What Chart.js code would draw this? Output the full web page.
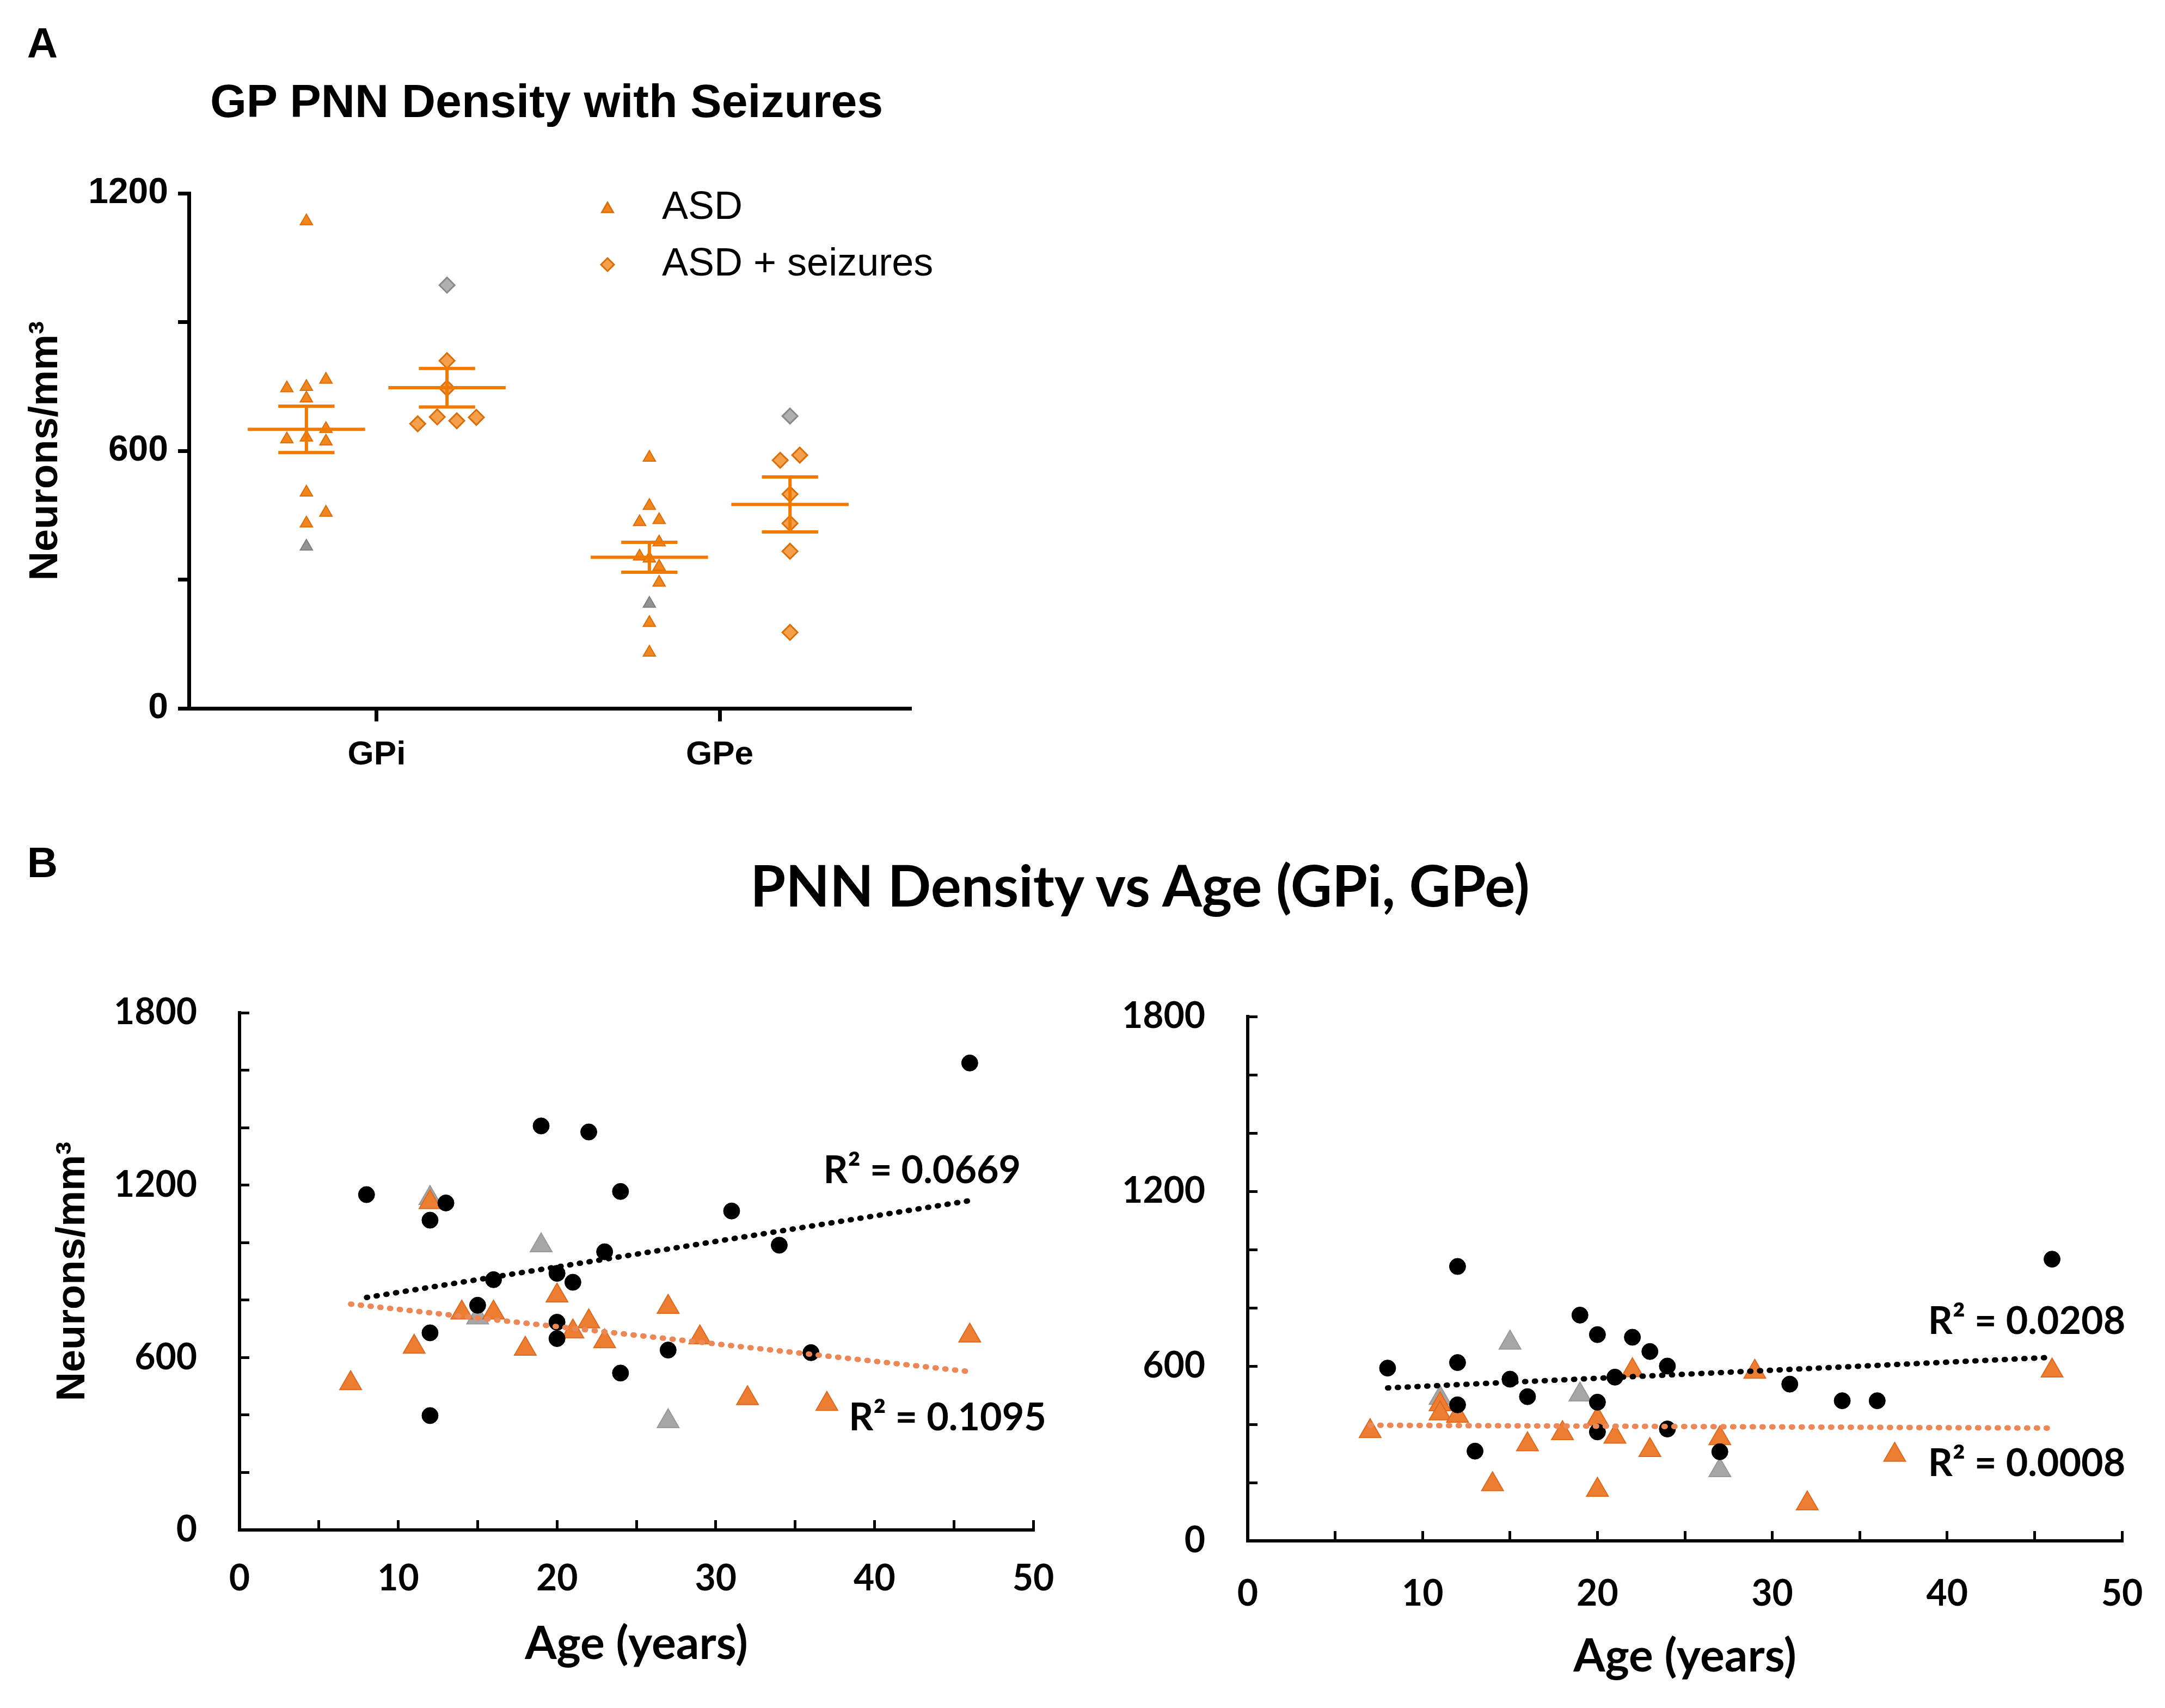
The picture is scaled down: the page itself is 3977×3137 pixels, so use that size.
<!DOCTYPE html>
<html>
<head>
<meta charset="utf-8">
<title>GP PNN density</title>
<script src="https://cdn.jsdelivr.net/npm/chart.js@4.4.1/dist/chart.umd.min.js"></script>
<style>
  html, body { margin: 0; padding: 0; background: #fff; }
  body { width: 3977px; height: 3137px; position: relative; overflow: hidden; }
  canvas { position: absolute; }
  .txt { position: absolute; transform: translate(-50%, -50%); line-height: 1; white-space: nowrap; color: #000; }
</style>
</head>
<body>
<div class="txt" style="left:78px;top:79px;font:bold 78px 'Liberation Sans'">A</div>
<div class="txt" style="left:1004px;top:185px;font:bold 86px 'Liberation Sans'">GP PNN Density with Seizures</div>
<div class="txt" style="left:78px;top:1584px;font:bold 78px 'Liberation Sans'">B</div>
<div class="txt" style="left:2094px;top:1624px;font:bold 105px Lato">PNN Density vs Age (GPi, GPe)</div>

<canvas id="chartA" width="1760" height="1500" style="left:0;top:0"></canvas>
<canvas id="chartGPi" width="2000" height="1337" style="left:0;top:1800px"></canvas>
<canvas id="chartGPe" width="1977" height="1337" style="left:2000px;top:1800px"></canvas>

<script>
// ---- panel A data ----
const groups = ['GPi', 'GPe'];
const legendLabels = ['ASD', 'ASD + seizures'];

const asdGPi = [1135, 766, 749, 746, 722, 651, 631, 627, 622, 503, 456, 431];
const asdGPiSlots = [0, 1, 0, -1, 0, 1, 0, -1, 1, 0, 1, 0];
const asdGPiGrey = [377];
const asdGPe = [584, 472, 439, 434, 387, 354, 349, 330, 293, 199, 130];
const asdGPeSlots = [0, 0, 0.5, -0.5, 0.5, -0.5, 0, 0.5, 0.5, 0, 0];
const asdGPeGrey = [244];

const seizGPi = [810, 746, 679, 678, 670, 663];
const seizGPiSlots = [0, 0, -0.5, 1.5, 0.5, -1.5];
const seizGPiGrey = [986];
const seizGPe = [590, 578, 499, 431, 366, 177];
const seizGPeSlots = [0.5, -0.5, 0, 0, 0, 0];
const seizGPeGrey = [681];

const asdMean = [650, 352];
const asdSem = [54, 35];
const seizMean = [747, 475];
const seizSem = [45, 64];

// ---- panel B data ----
const ctrlAge = [8, 12, 12, 12, 13, 15, 16, 19, 20, 20, 20, 21, 22, 23, 24, 24, 27, 31, 34, 36, 46];
const ctrlGPi = [1167, 1078, 686, 398, 1138, 782, 871, 1406, 893, 723, 666, 862, 1385, 968, 1178, 546, 626, 1110, 991, 617, 1625];
const ctrlGPe = [593, 942, 612, 467, 308, 555, 495, 775, 708, 476, 374, 562, 699, 650, 600, 384, 306, 538, 481, 481, 967];

const asdAgeGPi = [7, 11, 12, 14, 16, 18, 20, 21, 22, 23, 27, 29, 32, 37, 46];
const asdValGPi = [510, 637, 1140, 756, 756, 630, 815, 690, 725, 656, 776, 670, 458, 438, 676];
const asdAgeGPe = [7, 11, 11, 12, 14, 16, 18, 20, 20, 21, 22, 23, 27, 29, 32, 37, 46];
const asdValGPe = [376, 468, 437, 429, 194, 331, 369, 418, 175, 357, 585, 311, 352, 580, 128, 295, 584];

const greyAgeGPi = [12, 15, 19, 27];
const greyValGPi = [1155, 739, 990, 378];
const greyAgeGPe = [11, 15, 19, 27];
const greyValGPe = [490, 680, 502, 242];

const ctrlTrendAge = [8, 46];
const asdTrendAge = [7, 46];
const ctrlTrendGPi = [809, 1146];
const asdTrendGPi = [786, 551];
const ctrlTrendGPe = [525, 630];
const asdTrendGPe = [397, 387];

const r2GPi = ['R\u00B2 = 0.0669', 'R\u00B2 = 0.1095'];
const r2GPe = ['R\u00B2 = 0.0208', 'R\u00B2 = 0.0008'];

// ---- styling ----
const ORANGE_A = '#F0861C';
const ORANGE_A_EDGE = '#DC6E0A';
const ORANGE_LINE = '#F07A00';
const GREY_A = '#929292';
const ORANGE_B = '#ED7D31';
const GREY_B = '#A6A6A6';

const slotWidth = 0.057, groupShift = 0.205, meanHalf = 0.171, capHalf = 0.082;

function zip(xs, ys) { return xs.map((x, i) => ({ x: x, y: ys[i] })); }

function groupPts(values, slots, gi, side) {
  return values.map((v, i) => ({ x: gi + 1 + side * groupShift + (slots ? slots[i] : 0) * slotWidth, y: v }));
}

function errorBars() {
  const out = [];
  groups.forEach((g, i) => {
    [[asdMean, asdSem, -1], [seizMean, seizSem, 1]].forEach(([m, s, side]) => {
      const c = i + 1 + side * groupShift;
      const mean = m[i], sem = s[i];
      out.push({ x: c - meanHalf, y: mean }, { x: c + meanHalf, y: mean }, { x: c, y: null },
        { x: c - capHalf, y: mean + sem }, { x: c + capHalf, y: mean + sem }, { x: c, y: null },
        { x: c - capHalf, y: mean - sem }, { x: c + capHalf, y: mean - sem }, { x: c, y: null },
        { x: c, y: mean - sem }, { x: c, y: mean + sem }, { x: c, y: null });
    });
  });
  return out;
}

// scales report label overflow as padding; the layout here is fixed by hand
function fixBox(prop, size) {
  return s => {
    s[prop] = size;
    s.paddingTop = s.paddingBottom = s.paddingLeft = s.paddingRight = 0;
  };
}

function tri(ctx, x, y, r) {
  ctx.beginPath();
  ctx.moveTo(x, y - r);
  ctx.lineTo(x + r * 0.866, y + r * 0.5);
  ctx.lineTo(x - r * 0.866, y + r * 0.5);
  ctx.closePath();
}
function diamond(ctx, x, y, r) {
  ctx.beginPath();
  ctx.moveTo(x, y - r);
  ctx.lineTo(x + r, y);
  ctx.lineTo(x, y + r);
  ctx.lineTo(x - r, y);
  ctx.closePath();
}

const legendA = {
  id: 'legendA',
  afterDraw(chart) {
    const ctx = chart.ctx;
    ctx.save();
    ctx.font = '72px "Liberation Sans"';
    ctx.textBaseline = 'middle';
    legendLabels.forEach((label, i) => {
      const y = 382 + i * 104;
      if (i === 0) tri(ctx, 1116, y + 2, 12); else diamond(ctx, 1116, y, 12);
      ctx.fillStyle = i === 0 ? ORANGE_A : '#F6A04C';
      ctx.fill();
      ctx.lineWidth = 3;
      ctx.strokeStyle = ORANGE_A_EDGE;
      ctx.stroke();
      ctx.fillStyle = '#000';
      ctx.fillText(label, 1216, y);
    });
    ctx.restore();
  }
};

function r2Plugin(labels, anchors) {
  return {
    id: 'r2labels',
    afterDraw(chart) {
      const ctx = chart.ctx, xs = chart.scales.x, ys = chart.scales.y;
      ctx.save();
      ctx.font = 'bold 70px Lato';
      ctx.textAlign = 'center';
      ctx.textBaseline = 'middle';
      ctx.fillStyle = '#000';
      labels.forEach((t, i) => {
        ctx.fillText(t, xs.getPixelForValue(anchors[i][0]), ys.getPixelForValue(anchors[i][1]));
      });
      ctx.restore();
    }
  };
}

Chart.defaults.color = '#000';

// ---- panel A ----
new Chart(document.getElementById('chartA'), {
  type: 'scatter',
  data: {
    datasets: [
      { type: 'line', data: errorBars(), borderColor: ORANGE_LINE, borderWidth: 6, pointRadius: 0, spanGaps: false, fill: false },
      { data: groupPts(seizGPi, seizGPiSlots, 0, 1).concat(groupPts(seizGPe, seizGPeSlots, 1, 1)),
        pointStyle: 'rectRot', pointRadius: 14, backgroundColor: '#F6A04C', borderColor: ORANGE_A_EDGE, borderWidth: 3 },
      { data: groupPts(seizGPiGrey, null, 0, 1).concat(groupPts(seizGPeGrey, null, 1, 1)),
        pointStyle: 'rectRot', pointRadius: 14, backgroundColor: '#B0B0B0', borderColor: '#8A8A8A', borderWidth: 3 },
      { data: groupPts(asdGPi, asdGPiSlots, 0, -1).concat(groupPts(asdGPe, asdGPeSlots, 1, -1)),
        pointStyle: 'triangle', pointRadius: 13, backgroundColor: ORANGE_A, borderColor: ORANGE_A_EDGE, borderWidth: 2 },
      { data: groupPts(asdGPiGrey, null, 0, -1).concat(groupPts(asdGPeGrey, null, 1, -1)),
        pointStyle: 'triangle', pointRadius: 13, backgroundColor: GREY_A, borderColor: '#7E7E7E', borderWidth: 2 }
    ]
  },
  options: {
    responsive: false, animation: false, devicePixelRatio: 1, events: [],
    layout: { padding: { left: 0, top: 355, right: 86, bottom: 0 } },
    plugins: { legend: { display: false }, tooltip: { enabled: false } },
    scales: {
      x: {
        type: 'linear', min: 0.4524, max: 2.5587,
        afterBuildTicks: s => { s.ticks = groups.map((g, i) => ({ value: i + 1 })); },
        afterFit: fixBox('height', 199),
        ticks: { callback: v => groups[Math.round(v) - 1], font: { family: 'Liberation Sans', weight: 'bold', size: 62 }, padding: 25, maxRotation: 0 },
        grid: { drawOnChartArea: false, tickLength: 24, tickWidth: 7, tickColor: '#000' },
        border: { color: '#000', width: 7 }
      },
      y: {
        min: 0, max: 1200,
        afterFit: fixBox('width', 347),
        ticks: { stepSize: 300, callback: v => (v % 600 === 0 ? v : ''), font: { family: 'Liberation Sans', weight: 'bold', size: 66 }, padding: 18 },
        grid: { drawOnChartArea: false, tickLength: 20, tickWidth: 7, tickColor: '#000' },
        border: { color: '#000', width: 7 },
        title: { display: true, text: 'Neurons/mm\u00B3', font: { family: 'Liberation Sans', weight: 'bold', size: 74 }, padding: { top: 40, bottom: 0 } }
      }
    }
  },
  plugins: [legendA]
});

// ---- panel B ----
function ageChart(id, o) {
  const ds = [
    { type: 'line', data: zip(ctrlTrendAge, o.ctrlTrend), borderColor: '#000', borderWidth: 10, borderDash: [2, 16], borderCapStyle: 'round', pointRadius: 0, fill: false },
    { type: 'line', data: zip(asdTrendAge, o.asdTrend), borderColor: '#EC8757', borderWidth: 10, borderDash: [2, 16], borderCapStyle: 'round', pointRadius: 0, fill: false },
    { data: zip(ctrlAge, o.ctrl), pointStyle: 'circle', pointRadius: 15, backgroundColor: '#000', borderColor: '#000', borderWidth: 1 },
    { data: zip(o.asdAge, o.asd), pointStyle: 'triangle', pointRadius: 23, backgroundColor: ORANGE_B, borderColor: '#DE6A22', borderWidth: 2 },
    { data: zip(o.greyAge, o.grey), pointStyle: 'triangle', pointRadius: 23, backgroundColor: GREY_B, borderColor: '#999', borderWidth: 2 }
  ];
  const yScale = {
    min: 0, max: 1800,
    afterFit: fixBox('width', o.yWidth),
    ticks: { stepSize: 200, callback: v => (v % 600 === 0 ? v : ''), font: { family: 'Lato', weight: 'bold', size: 66 }, padding: 96 },
    grid: { drawOnChartArea: false, tickLength: -18, tickWidth: 5, tickColor: '#000' },
    border: { color: '#000', width: 6 }
  };
  if (o.yTitle) {
    yScale.title = { display: true, text: 'Neurons/mm\u00B3', font: { family: 'Liberation Sans', weight: 'bold', size: 74 }, padding: { top: 90, bottom: 0 } };
  }
  new Chart(document.getElementById(id), {
    type: 'scatter',
    data: { datasets: ds },
    options: {
      responsive: false, animation: false, devicePixelRatio: 1, events: [],
      layout: { padding: { left: 0, top: o.top, right: o.right, bottom: 0 } },
      plugins: { legend: { display: false }, tooltip: { enabled: false } },
      scales: {
        x: {
          type: 'linear', min: 0, max: 50,
          afterFit: fixBox('height', o.xHeight),
          ticks: { stepSize: 5, autoSkip: false, maxRotation: 0, callback: v => (v % 10 === 0 ? v : ''), font: { family: 'Lato', weight: 'bold', size: 66 }, padding: o.xPad },
          grid: { drawOnChartArea: false, tickLength: -18, tickWidth: 5, tickColor: '#000' },
          border: { color: '#000', width: 6 },
          title: { display: true, text: 'Age (years)', font: { family: 'Lato', weight: 'bold', size: 84 }, padding: { top: 0, bottom: o.titlePad } }
        },
        y: yScale
      }
    },
    plugins: [r2Plugin(o.r2, o.r2At)]
  });
}

ageChart('chartGPi', {
  ctrl: ctrlGPi, asdAge: asdAgeGPi, asd: asdValGPi, greyAge: greyAgeGPi, grey: greyValGPi,
  ctrlTrend: ctrlTrendGPi, asdTrend: asdTrendGPi, r2: r2GPi, r2At: [[43.0, 1250], [44.6, 390]],
  yTitle: true, yWidth: 440, top: 60, right: 102, xHeight: 327, xPad: 68, titlePad: 67
});
ageChart('chartGPe', {
  ctrl: ctrlGPe, asdAge: asdAgeGPe, asd: asdValGPe, greyAge: greyAgeGPe, grey: greyValGPe,
  ctrlTrend: ctrlTrendGPe, asdTrend: asdTrendGPe, r2: r2GPe, r2At: [[44.55, 753], [44.55, 265]],
  yTitle: false, yWidth: 292, top: 67, right: 79, xHeight: 307, xPad: 76, titlePad: 44
});
</script>
</body>
</html>
